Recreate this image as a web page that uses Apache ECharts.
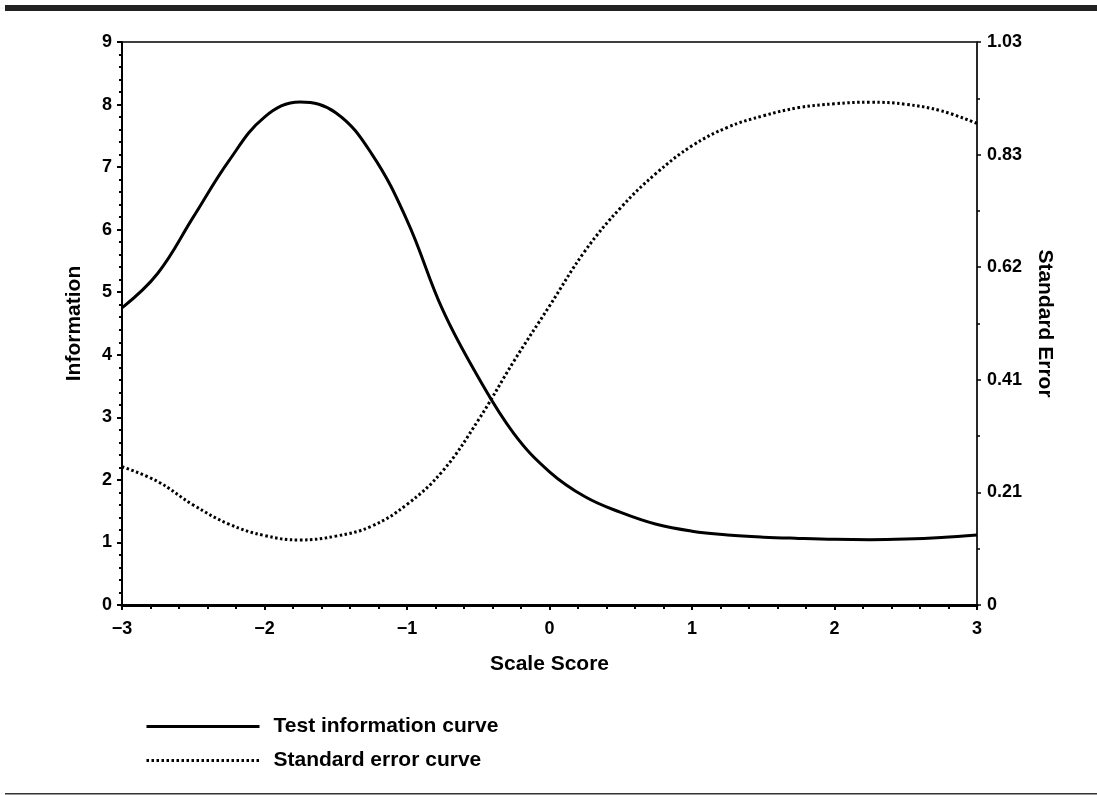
<!DOCTYPE html>
<html>
<head>
<meta charset="utf-8">
<script src="https://cdn.jsdelivr.net/npm/echarts@6/dist/echarts.min.js"></script>
<style>html,body{margin:0;padding:0;background:#fff;}#c{width:1097px;height:795px;}</style>
</head>
<body>
<div id="c"></div>
<script>
// Scale score grid (x)
const scaleScores = [-3, -2.75, -2.5, -2.25, -2, -1.75, -1.5, -1.25, -1, -0.75, -0.5, -0.25, 0, 0.25, 0.5, 0.75, 1, 1.25, 1.5, 1.75, 2, 2.25, 2.5, 2.75, 3];
// Test information (left axis)
const infoValues = [4.75, 5.3, 6.2, 7.1, 7.8, 8.04, 7.87, 7.22, 6.15, 4.72, 3.64, 2.74, 2.13, 1.73, 1.48, 1.29, 1.18, 1.12, 1.085, 1.065, 1.05, 1.045, 1.055, 1.08, 1.12];
// Standard error (right axis)
const seValues = [0.253, 0.226, 0.183, 0.148, 0.127, 0.119, 0.126, 0.144, 0.184, 0.245, 0.338, 0.446, 0.547, 0.648, 0.727, 0.79, 0.84, 0.874, 0.895, 0.91, 0.917, 0.92, 0.916, 0.904, 0.881];
// Right axis tick labels
const seTickLabels = ['0', '0.21', '0.41', '0.62', '0.83', '1.03'];
const seMax = 1.03;
const seInterval = seMax / 5;

const chart = echarts.init(document.getElementById('c'), null, {renderer: 'canvas'});
const font = 'Liberation Sans, Arial, sans-serif';
const toPairs = (ys) => scaleScores.map((x, i) => [x, ys[i]]);

chart.setOption({
  animation: false,
  backgroundColor: '#fff',
  grid: {left: 122, right: 120, top: 42, bottom: 190, show: true, borderColor: '#000', borderWidth: 1.5},
  xAxis: {
    type: 'value', min: -3, max: 3, interval: 1,
    name: 'Scale Score', nameLocation: 'middle', nameGap: 49,
    nameTextStyle: {fontFamily: font, fontWeight: 'bold', fontSize: 21, color: '#000'},
    axisLine: {show: true, onZero: false, lineStyle: {color: '#000', width: 3}},
    axisTick: {show: true, length: 5, lineStyle: {color: '#000', width: 2}},
    minorTick: {show: true, splitNumber: 5, length: 4, lineStyle: {color: '#000', width: 2}},
    splitLine: {show: false},
    axisLabel: {margin: 15, fontFamily: font, fontWeight: 'bold', fontSize: 18, color: '#000',
      formatter: v => String(v).replace('-', '\u2212')}
  },
  yAxis: [{
    type: 'value', min: 0, max: 9, interval: 1, position: 'left',
    name: 'Information', nameLocation: 'middle', nameGap: 37,
    nameTextStyle: {fontFamily: font, fontWeight: 'bold', fontSize: 21, color: '#000'},
    axisLine: {show: true, onZero: false, lineStyle: {color: '#000', width: 2}},
    axisTick: {show: true, length: 5, lineStyle: {color: '#000', width: 2}},
    minorTick: {show: true, splitNumber: 5, length: 3, lineStyle: {color: '#000', width: 2}},
    splitLine: {show: false},
    axisLabel: {margin: 10, fontFamily: font, fontWeight: 'bold', fontSize: 18, color: '#000'}
  }, {
    type: 'value', min: 0, max: seMax, interval: seInterval, position: 'right',
    name: 'Standard Error', nameLocation: 'middle', nameGap: 57, nameRotate: -90,
    nameTextStyle: {fontFamily: font, fontWeight: 'bold', fontSize: 21, color: '#000'},
    axisLine: {show: true, onZero: false, lineStyle: {color: '#222', width: 1.5}},
    axisTick: {show: true, length: 4, lineStyle: {color: '#000', width: 1.5}},
    minorTick: {show: true, splitNumber: 2, length: 3, lineStyle: {color: '#000', width: 1.5}},
    splitLine: {show: false},
    axisLabel: {margin: 10, fontFamily: font, fontWeight: 'bold', fontSize: 18, color: '#000',
      formatter: v => seTickLabels[Math.round(v / seInterval)]}
  }],
  legend: {
    orient: 'vertical', left: 145, top: 716, padding: 0, itemWidth: 113, itemHeight: 14, itemGap: 13,
    itemStyle: {opacity: 0},
    lineStyle: {width: 3},
    textStyle: {fontFamily: font, fontWeight: 'bold', fontSize: 21, color: '#000', padding: [0, 0, 0, 9]},
    data: ['Test information curve', 'Standard error curve']
  },
  series: [{
    name: 'Test information curve', type: 'line', yAxisIndex: 0, smooth: 0.4, symbol: 'none',
    lineStyle: {color: '#000', width: 3, type: 'solid'},
    itemStyle: {color: '#000'},
    data: toPairs(infoValues)
  }, {
    name: 'Standard error curve', type: 'line', yAxisIndex: 1, smooth: 0.4, symbol: 'none',
    lineStyle: {color: '#000', width: 3, type: [2.5, 2.5]},
    itemStyle: {color: '#000'},
    data: toPairs(seValues)
  }],
  graphic: [
    {type: 'rect', shape: {x: 5, y: 5, width: 1092, height: 6}, style: {fill: '#222'}},
    {type: 'rect', shape: {x: 5, y: 793, width: 1092, height: 1.5}, style: {fill: '#333'}}
  ]
});
</script>
</body>
</html>
